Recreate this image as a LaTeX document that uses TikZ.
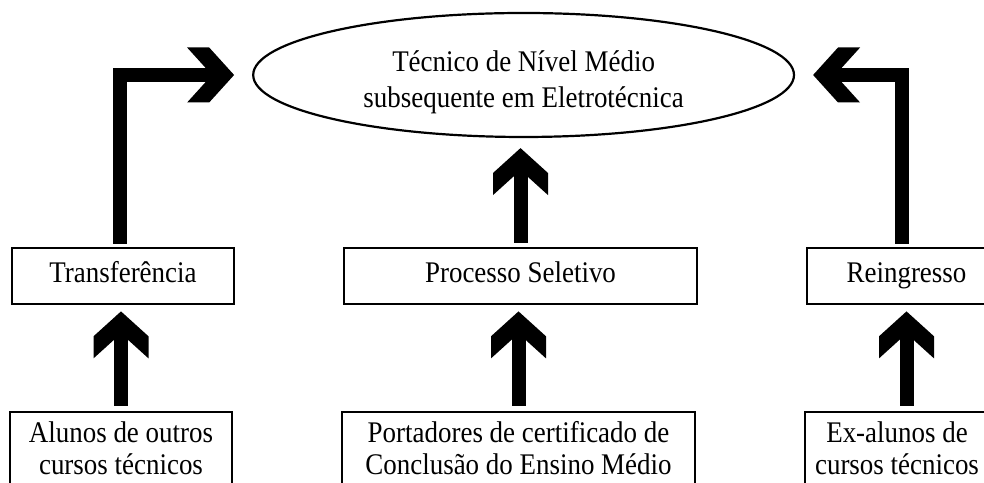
\documentclass[tikz,border=0pt]{standalone}
\usepackage{fontspec}
\setmainfont{Liberation Serif}[FakeStretch=0.9]
\usepackage{tikz}
\usetikzlibrary{shapes.geometric, arrows.meta}

% thick chevron head for the block arrows
\pgfdeclarearrow{
  name = Chevron,
  parameters = {\the\pgfarrowlength,\the\pgfarrowwidth},
  setup code = {
    \pgfarrowssettipend{0pt}
    \pgfarrowssetlineend{-.45\pgfarrowlength}
    \pgfarrowssetbackend{-\pgfarrowlength}
    \pgfarrowshullpoint{0pt}{0pt}
    \pgfarrowsupperhullpoint{-\pgfarrowlength}{.5\pgfarrowwidth}
    \pgfarrowssavethe\pgfarrowlength
    \pgfarrowssavethe\pgfarrowwidth
  },
  drawing code = {
    \pgfpathmoveto{\pgfpointorigin}
    \pgfpathlineto{\pgfpoint{-.53\pgfarrowlength}{.5\pgfarrowwidth}}
    \pgfpathlineto{\pgfpoint{-\pgfarrowlength}{.5\pgfarrowwidth}}
    \pgfpathlineto{\pgfpoint{-.47\pgfarrowlength}{0pt}}
    \pgfpathlineto{\pgfpoint{-\pgfarrowlength}{-.5\pgfarrowwidth}}
    \pgfpathlineto{\pgfpoint{-.53\pgfarrowlength}{-.5\pgfarrowwidth}}
    \pgfpathclose
    \pgfusepathqfill
  },
  defaults = {length = 1.175cm, width = 1.375cm}
}

\tikzset{
  caixa/.style={draw, line width=0.07cm, rectangle, minimum height=1.4cm, inner sep=0pt,
    text height=0.55cm, text depth=0.2cm, font=\fontsize{21.3}{25.6}\selectfont},
  origem/.style={draw, line width=0.07cm, rectangle, minimum height=1.8cm, inner sep=0pt,
    align=center, font=\fontsize{21.3}{22.8}\selectfont},
  seta/.style={line width=0.35cm, -{Chevron[length=1.175cm, width=1.375cm]}}
}

\begin{document}
\begin{tikzpicture}
\useasboundingbox (0,0) rectangle (24.6,12.075);
\clip (0,0) rectangle (24.6,12.075);

% course
\node[ellipse, draw, line width=0.055cm, minimum width=13.52cm, minimum height=3.1cm,
  inner sep=0pt, font=\fontsize{21.3}{25.6}\selectfont] (curso) at (13.09,10.2)
  {\raisebox{-0.175cm}[\height][\depth]{\begin{tabular}{@{}c@{}}Técnico de Nível Médio\\subsequente em Eletrotécnica\end{tabular}}};

% ways in
\node[caixa, minimum width=5.55cm] (transf) at (3.075,5.175) {Transferência};
\node[caixa, minimum width=8.825cm] (proc) at (13.0125,5.175) {Processo Seletivo};
\node[caixa, minimum width=4.975cm] (reing) at (22.6625,5.175) {Reingresso};

% who comes in
\node[origem, minimum width=5.55cm] (alun) at (3.025,0.875) {Alunos de outros\\cursos técnicos};
\node[origem, minimum width=8.825cm] (port) at (12.9625,0.875) {Portadores de certificado de\\Conclusão do Ensino Médio};
\node[origem, minimum width=4.6cm] (exal) at (22.425,0.875) {Ex-alunos de\\cursos técnicos};

% arrows
\draw[seta, shorten <=0.075cm, shorten >=0.45cm] ([xshift=-0.075cm]transf.north) |- (curso.west);
\draw[seta, shorten <=0.075cm, shorten >=0.45cm] ([xshift=-0.11cm]reing.north) |- (curso.east);
\draw[seta, shorten <=0.1cm, shorten >=0.25cm] (proc.north) -- (proc.north |- curso.south);
\draw[seta, shorten <=0.125cm, shorten >=0.15cm] (alun.north) -- (alun.north |- transf.south);
\draw[seta, shorten <=0.125cm, shorten >=0.15cm] (port.north) -- (port.north |- proc.south);
\draw[seta, shorten <=0.125cm, shorten >=0.15cm] (exal.north -| reing.south) -- (reing.south);
\end{tikzpicture}
\end{document}
